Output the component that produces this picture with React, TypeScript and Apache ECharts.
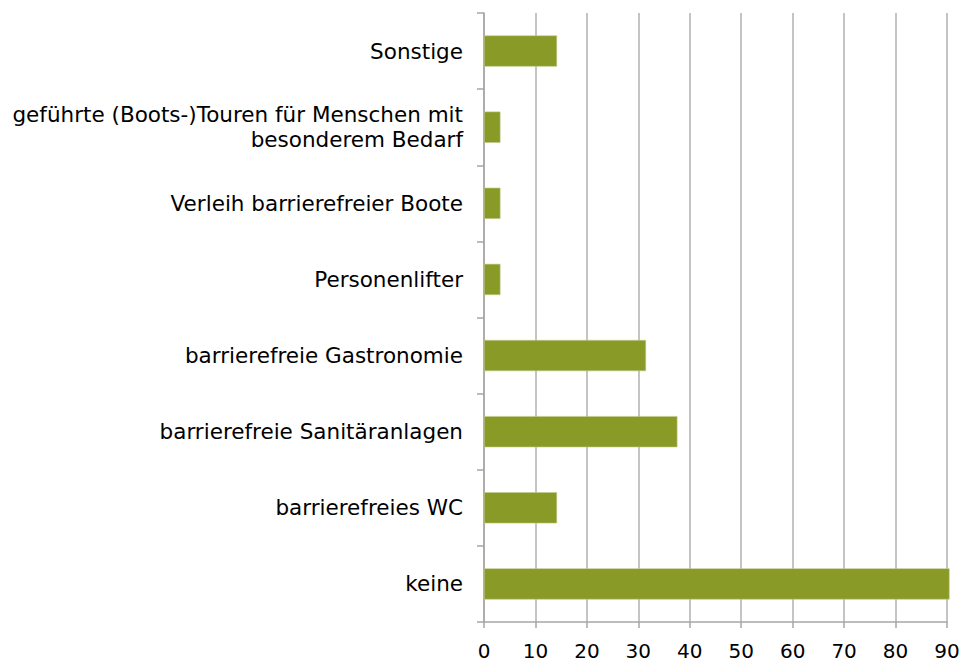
import React, { useEffect, useRef } from "react";
import * as echarts from "echarts";

const categories = [
  "keine",
  "barrierefreies WC",
  "barrierefreie Sanitäranlagen",
  "barrierefreie Gastronomie",
  "Personenlifter",
  "Verleih barrierefreier Boote",
  "geführte (Boots-)Touren für Menschen mit\nbesonderem Bedarf",
  "Sonstige",
];
const values = [90.5, 14.2, 37.6, 31.5, 3.2, 3.2, 3.2, 14.2];
const xTicks = { min: 0, max: 90, interval: 10 };

export default function App() {
  const ref = useRef<HTMLDivElement>(null);
  useEffect(() => {
    if (!ref.current) return;
    const chart = echarts.init(ref.current, undefined, { renderer: "svg" });
    const font = "DejaVu Sans, Verdana, sans-serif";
    chart.setOption({
      animation: false,
      grid: { left: 484, right: 22, top: 13, bottom: 40, containLabel: false },
      xAxis: {
        type: "value",
        min: xTicks.min,
        max: xTicks.max,
        interval: xTicks.interval,
        axisLine: { show: true, lineStyle: { color: "#a6a6a6", width: 1.5 } },
        axisTick: { show: true, length: 6, lineStyle: { color: "#a6a6a6", width: 1.5 } },
        splitLine: { show: true, lineStyle: { color: "#b0b0b0", width: 1.5 } },
        axisLabel: { color: "#000", fontFamily: font, fontSize: 20, lineHeight: 20, margin: 19 },
      },
      yAxis: {
        type: "category",
        data: categories,
        axisLine: { show: true, lineStyle: { color: "#a6a6a6", width: 1.5 } },
        axisTick: { show: true, length: 7, lineStyle: { color: "#a6a6a6", width: 1.5 } },
        axisLabel: {
          color: "#000",
          fontFamily: font,
          fontSize: 21.5,
          margin: 21,
          lineHeight: 25,
          align: "right",
        },
      },
      series: [
        {
          type: "bar",
          data: values,
          barWidth: "41%",
          clip: false,
          itemStyle: { color: "#8a9a26", borderColor: "#c3c98e", borderWidth: 0.6 },
        },
      ],
    });
    return () => chart.dispose();
  }, []);
  return <div ref={ref} style={{ width: 969, height: 662, position: "absolute", left: 0, top: 0 }} />;
}
